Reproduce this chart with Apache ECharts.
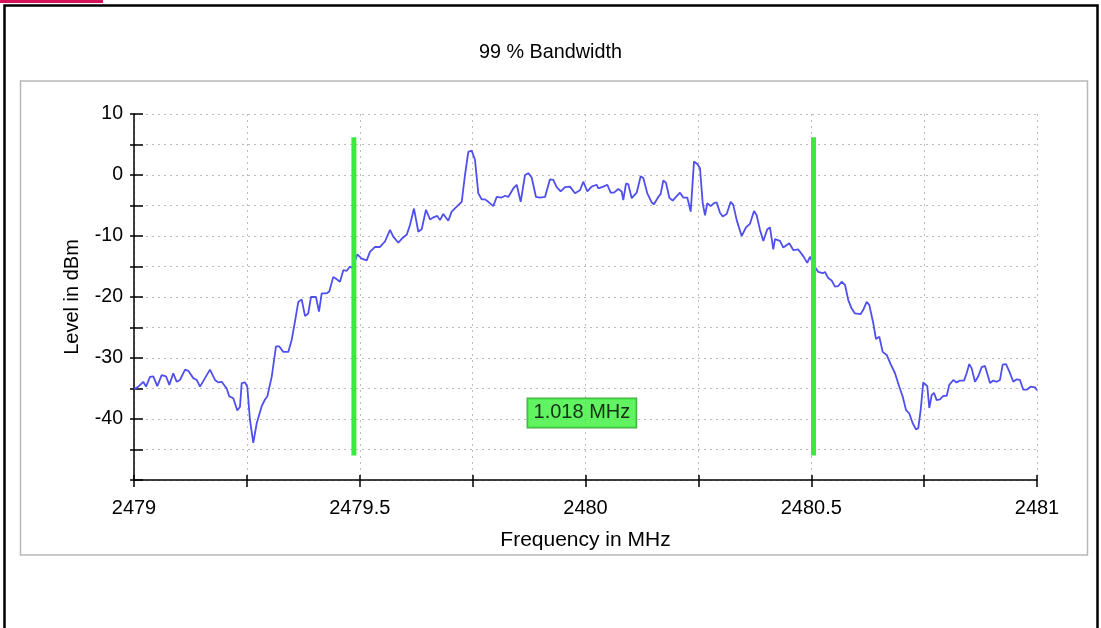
<!DOCTYPE html>
<html><head><meta charset="utf-8">
<script src="https://cdn.jsdelivr.net/npm/echarts@6/dist/echarts.min.js"></script>
<style>html,body{margin:0;padding:0;background:#fff}#c{width:1101px;height:628px}</style>
</head><body><div id="c"></div>
<script>
const chartTitle = '99 % Bandwidth';
const xName = 'Frequency in MHz';
const yName = 'Level in dBm';
const freqStart = 2479;
const freqOffsets = [0,0.0095,0.0206,0.0266,0.0354,0.0427,0.0516,0.0613,0.0709,0.0782,0.0870,0.0946,0.1019,0.1130,0.1203,0.1313,0.1389,0.1462,0.1572,0.1683,0.1794,0.1867,0.1942,0.2053,0.2111,0.2199,0.2288,0.2348,0.2385,0.2458,0.2509,0.2569,0.2642,0.2718,0.2828,0.2901,0.2952,0.3050,0.3145,0.3218,0.3307,0.3417,0.3493,0.3566,0.3639,0.3714,0.3787,0.3860,0.3920,0.4031,0.4097,0.4157,0.4268,0.4325,0.4414,0.4489,0.4562,0.4636,0.4711,0.4784,0.4844,0.4946,0.5043,0.5154,0.5227,0.5338,0.5448,0.5559,0.5670,0.5743,0.5854,0.5964,0.6040,0.6113,0.6201,0.6297,0.6372,0.6467,0.6556,0.6644,0.6717,0.6777,0.6850,0.6961,0.7036,0.7147,0.7258,0.7331,0.7404,0.7479,0.7552,0.7626,0.7701,0.7774,0.7847,0.7958,0.8033,0.8144,0.8217,0.8290,0.8401,0.8476,0.8565,0.8660,0.8733,0.8808,0.8903,0.8992,0.9103,0.9213,0.9286,0.9362,0.9450,0.9546,0.9656,0.9767,0.9878,0.9951,1.0040,1.0137,1.0248,1.0283,1.0394,1.0483,1.0558,1.0631,1.0726,1.0801,1.0837,1.0897,1.0948,1.1023,1.1134,1.1222,1.1280,1.1368,1.1466,1.1517,1.1612,1.1665,1.1723,1.1783,1.1856,1.1931,1.2004,1.2093,1.2166,1.2254,1.2330,1.2403,1.2476,1.2536,1.2596,1.2647,1.2698,1.2773,1.2846,1.2906,1.2979,1.3039,1.3127,1.3216,1.3273,1.3349,1.3459,1.3555,1.3643,1.3732,1.3791,1.3865,1.3938,1.4027,1.4086,1.4159,1.4197,1.4307,1.4381,1.4513,1.4602,1.4713,1.4823,1.4912,1.4971,1.5009,1.5082,1.5155,1.5253,1.5304,1.5377,1.5452,1.5525,1.5598,1.5674,1.5747,1.5820,1.5895,1.5968,1.6095,1.6152,1.6228,1.6285,1.6374,1.6434,1.6507,1.6582,1.6671,1.6759,1.6855,1.6950,1.7025,1.7098,1.7171,1.7247,1.7320,1.7371,1.7424,1.7481,1.7570,1.7614,1.7667,1.7718,1.7778,1.7851,1.7924,1.8000,1.8057,1.8146,1.8221,1.8294,1.8383,1.8442,1.8500,1.8553,1.8627,1.8700,1.8775,1.8848,1.8921,1.8959,1.9032,1.9107,1.9180,1.9240,1.9313,1.9386,1.9475,1.9550,1.9623,1.9696,1.9771,1.9860,1.9955,2.0];
const levels = [-35.1,-34.7,-33.9,-34.7,-33.1,-33.0,-34.6,-32.8,-33.0,-34.4,-32.5,-33.9,-33.6,-31.9,-32.1,-33.3,-33.6,-34.7,-33.3,-31.9,-33.6,-34.0,-33.9,-35.0,-36.3,-36.6,-38.6,-38.0,-34.1,-34.0,-34.7,-40.2,-43.9,-40.7,-37.9,-36.8,-36.3,-33.1,-28.1,-28.1,-29.0,-29.0,-27.0,-24.0,-20.8,-20.4,-23.1,-22.7,-20.0,-20.0,-22.4,-19.4,-19.4,-19.1,-16.7,-17.1,-17.5,-15.6,-15.7,-15.0,-15.3,-13.0,-13.7,-14.0,-12.6,-11.8,-11.8,-10.9,-9.0,-10.1,-11.1,-10.2,-9.8,-8.2,-5.5,-9.3,-8.9,-5.7,-7.3,-6.9,-6.7,-7.4,-6.4,-7.5,-6.0,-5.2,-4.4,0,3.8,4.0,2.5,-3.0,-4.0,-4.0,-4.4,-5.1,-3.6,-3.7,-3.4,-3.6,-2.2,-1.6,-4.4,0,0.3,-0.4,-3.6,-3.7,-3.6,-0.7,-0.8,-2.0,-2.7,-2.0,-1.9,-3.0,-2.5,-1.1,-2.7,-1.9,-1.6,-2.2,-1.9,-1.6,-2.9,-2.9,-2.3,-2.7,-4.1,-1.4,-1.5,-3.8,-2.9,-0.2,-0.5,-3.0,-4.5,-4.8,-3.6,-3.1,-0.9,-1.3,-3.7,-4.2,-3.6,-2.9,-3.7,-3.7,-6.0,2.2,1.8,1.1,-4.6,-6.6,-4.6,-5.1,-4.6,-4.5,-6.2,-6.8,-6.4,-4.4,-4.9,-7.4,-10.0,-8.6,-8.0,-5.9,-6.6,-9.0,-10.8,-8.9,-8.6,-12.2,-10.5,-10.8,-11.9,-11.2,-12.3,-12.2,-13.3,-14.4,-13.4,-14.0,-15.1,-15.9,-16.1,-15.9,-16.9,-17.3,-18.3,-18.2,-17.5,-18.0,-20.5,-21.9,-22.7,-22.8,-22.1,-20.8,-21.3,-24.3,-26.9,-26.5,-29.0,-29.5,-31.0,-32.5,-34.7,-36.3,-38.5,-39.1,-40.7,-41.7,-41.5,-38.5,-34.0,-34.6,-38.2,-36.1,-35.7,-36.9,-36.8,-36.2,-36.2,-34.4,-33.6,-34.0,-33.7,-33.7,-32.5,-31.0,-31.7,-33.9,-33.0,-31.5,-31.3,-33.1,-34.1,-33.7,-33.9,-33.6,-31.1,-31.0,-32.2,-33.9,-33.5,-33.6,-35.2,-35.2,-34.7,-34.8,-35.3];
const xMin = 2479, xMax = 2481, xStep = 0.25;
const yMin = -50, yMax = 10, yStep = 5;
const bandEdges = [2479.487, 2480.505];
const bandTop = 6.2, bandBottom = -46;
const bandLabel = '1.018 MHz';
const bandLabelPos = [2479.992, -39.0];

const FONT = 'Liberation Sans, Arial, Helvetica, sans-serif';
const traceData = freqOffsets.map((o, i) => [freqStart + o, levels[i]]);
const gridStyle = { show: true, lineStyle: { color: '#bdbdbd', width: 1, type: [2, 4] } };

const chart = echarts.init(document.getElementById('c'), null, { renderer: 'canvas' });
chart.setOption({
  animation: false,
  backgroundColor: '#fff',
  title: { text: chartTitle, left: 'center', top: 38, textStyle: { fontFamily: FONT, fontSize: 19.8, fontWeight: 'normal', color: '#000' } },
  graphic: [
    { type: 'rect', shape: { x: 0, y: 0, width: 103, height: 3 }, style: { fill: '#d4145a' }, silent: true },
    { type: 'rect', shape: { x: 4.5, y: 5.5, width: 1093, height: 660 }, style: { fill: 'none', stroke: '#000', lineWidth: 2.5 }, silent: true },
    { type: 'rect', shape: { x: 20.5, y: 81, width: 1067, height: 474 }, style: { fill: 'none', stroke: '#b8b8b8', lineWidth: 1.5 }, silent: true }
  ],
  grid: { left: 134, right: 64, top: 114, bottom: 148, containLabel: false },
  xAxis: [
    { type: 'value', min: xMin, max: xMax, interval: xStep, position: 'bottom',
      name: xName, nameLocation: 'middle', nameGap: 50,
      nameTextStyle: { fontFamily: FONT, fontSize: 21, color: '#000' },
      axisLine: { show: true, onZero: false, lineStyle: { color: '#000', width: 1.5 } },
      axisTick: { show: true, inside: false, length: 7, lineStyle: { color: '#000', width: 1.5 } },
      axisLabel: { show: true, margin: 18, fontFamily: FONT, fontSize: 20, color: '#000',
        formatter: v => (Math.round(v * 4) % 2 === 0) ? String(+v.toFixed(2)) : '' },
      splitLine: gridStyle },
    { type: 'value', min: xMin, max: xMax, interval: xStep, position: 'bottom',
      axisLine: { show: false, onZero: false },
      axisTick: { show: true, inside: true, length: 5, lineStyle: { color: '#000', width: 1.5 } },
      axisLabel: { show: false }, splitLine: { show: false } }
  ],
  yAxis: [
    { type: 'value', min: yMin, max: yMax, interval: yStep, position: 'left',
      name: yName, nameLocation: 'middle', nameGap: 52,
      nameTextStyle: { fontFamily: FONT, fontSize: 20, color: '#000' },
      axisLine: { show: true, onZero: false, lineStyle: { color: '#000', width: 1.5 } },
      axisTick: { show: true, inside: false, length: 4, lineStyle: { color: '#000', width: 1.5 } },
      axisLabel: { show: true, margin: 11, fontFamily: FONT, fontSize: 19.5, color: '#000',
        formatter: v => (v % 10 === 0 && v !== yMin) ? String(v) : '' },
      splitLine: gridStyle },
    { type: 'value', min: yMin, max: yMax, interval: yStep, position: 'left',
      axisLine: { show: false, onZero: false },
      axisTick: { show: true, inside: true, length: 9, lineStyle: { color: '#000', width: 1.5 } },
      axisLabel: { show: false }, splitLine: { show: false } }
  ],
  series: [
    { type: 'line', data: traceData, showSymbol: false, symbol: 'none', z: 3,
      lineStyle: { color: '#4f4fee', width: 1.8 } },
    ...bandEdges.map(f => ({ type: 'line', data: [[f, bandTop], [f, bandBottom]], symbol: 'none', z: 4,
      lineStyle: { color: '#3fe83f', width: 5 } })),
    { type: 'scatter', data: [bandLabelPos], symbolSize: 1, itemStyle: { color: 'rgba(0,0,0,0)' }, z: 5,
      label: { show: true, position: 'inside', formatter: bandLabel, fontFamily: FONT, fontSize: 20, color: '#000',
        backgroundColor: '#3af03a', borderColor: '#1e8f1e', borderWidth: 1, padding: [5, 6, 4, 6] } }
  ]
});
</script></body></html>
